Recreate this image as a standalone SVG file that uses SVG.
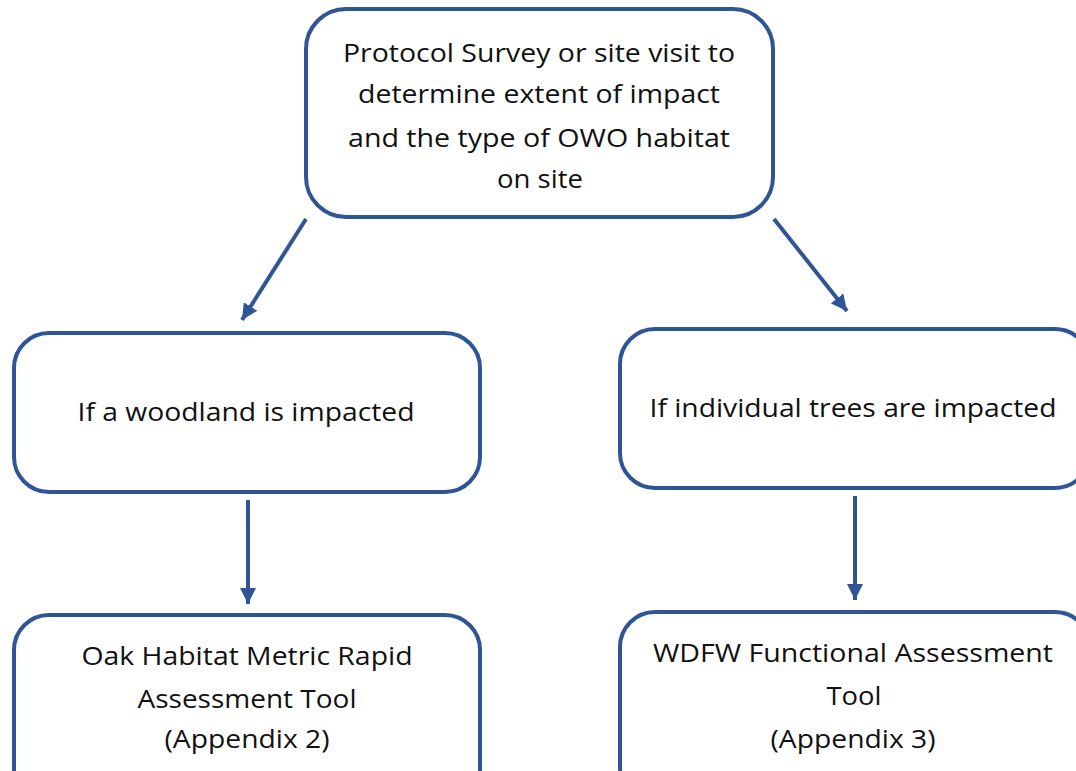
<svg xmlns="http://www.w3.org/2000/svg" width="1076" height="771" viewBox="0 0 1076 771">
<style>
.box{fill:#ffffff;stroke:#2F5597;stroke-width:4}
.lbl{font-family:"Open Sans","Noto Sans",sans-serif;font-size:26px;fill:#111111;text-anchor:middle}
.con{stroke:#2F5597;stroke-width:4;fill:none;marker-end:url(#ah)}
</style>
<defs>
<marker id="ah" markerUnits="userSpaceOnUse" markerWidth="18" markerHeight="16" refX="16" refY="8" orient="auto">
<path d="M0,0 L16,8 L0,16 Z" fill="#2F5597"/>
</marker>
</defs>
<rect width="1076" height="771" fill="#ffffff"/>
<g id="connectors">
<line class="con" x1="306" y1="219" x2="242" y2="320"/>
<line class="con" x1="774" y1="219" x2="847" y2="311"/>
<line class="con" x1="248" y1="500" x2="248" y2="604"/>
<line class="con" x1="855" y1="496" x2="855" y2="600"/>
</g>
<g id="n1">
<rect class="box" x="306" y="9" width="467" height="208" rx="40"/>
<text class="lbl" x="539" y="62" textLength="392" lengthAdjust="spacingAndGlyphs">Protocol Survey or site visit to</text>
<text class="lbl" x="539" y="103" textLength="362" lengthAdjust="spacingAndGlyphs">determine extent of impact</text>
<text class="lbl" x="539" y="147" textLength="382" lengthAdjust="spacingAndGlyphs">and the type of OWO habitat</text>
<text class="lbl" x="540" y="188" textLength="86" lengthAdjust="spacingAndGlyphs">on site</text>
</g>
<g id="n2">
<rect class="box" x="14" y="333" width="466" height="159" rx="35"/>
<text class="lbl" x="246" y="421" textLength="337" lengthAdjust="spacingAndGlyphs">If a woodland is impacted</text>
</g>
<g id="n3">
<rect class="box" x="620" y="329" width="470" height="159" rx="35"/>
<text class="lbl" x="853" y="417" textLength="407" lengthAdjust="spacingAndGlyphs">If individual trees are impacted</text>
</g>
<g id="n4">
<rect class="box" x="14" y="615" width="466" height="190" rx="35"/>
<text class="lbl" x="247" y="665" textLength="331" lengthAdjust="spacingAndGlyphs">Oak Habitat Metric Rapid</text>
<text class="lbl" x="247" y="708" textLength="219" lengthAdjust="spacingAndGlyphs">Assessment Tool</text>
<text class="lbl" x="247" y="748" textLength="165" lengthAdjust="spacingAndGlyphs">(Appendix 2)</text>
</g>
<g id="n5">
<rect class="box" x="620" y="612" width="470" height="190" rx="35"/>
<text class="lbl" x="853" y="662" textLength="400" lengthAdjust="spacingAndGlyphs">WDFW Functional Assessment</text>
<text class="lbl" x="854" y="705" textLength="55" lengthAdjust="spacingAndGlyphs">Tool</text>
<text class="lbl" x="853" y="748" textLength="165" lengthAdjust="spacingAndGlyphs">(Appendix 3)</text>
</g>
</svg>
